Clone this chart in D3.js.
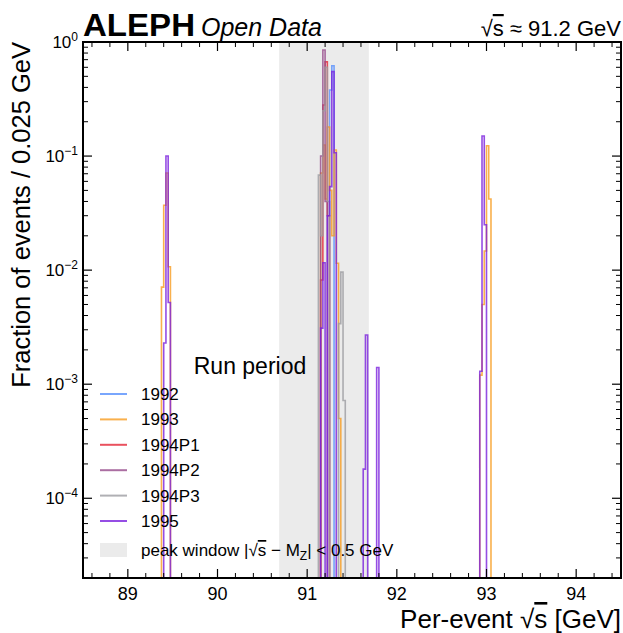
<!DOCTYPE html>
<html>
<head>
<meta charset="utf-8">
<script src="https://cdn.jsdelivr.net/npm/d3@7"></script>
<style>
  body { margin: 0; background: #fff; }
  text { font-family: "Liberation Sans", Arial, sans-serif; fill: #000; }
</style>
</head>
<body>
<svg width="623" height="633"></svg>
<script>
// bin width 0.025 GeV, each entry is [bin low edge, fraction]
const binWidth = 0.025,
      mZ = 91.1876;

const periods = ["1992", "1993", "1994P1", "1994P2", "1994P3", "1995"];
const colors  = ["#5790fc", "#f89c20", "#e42536", "#964a8b", "#9c9ca1", "#7a21dd"];

const h1992 = [[91.25, 0.38], [91.275, 0.62]];
const h1993 = [[89.375, 0.0071], [89.4, 0.037], [89.425, 0.071], [89.45, 0.0107],
               [91.15, 0.071], [91.175, 0.125], [91.2, 0.042], [91.225, 0.18],
               [91.25, 0.05], [91.275, 0.02], [91.3, 0.113], [91.325, 0.0115], [91.35, 0.0005],
               [92.925, 0.0012], [92.95, 0.005], [92.975, 0.0147], [93.0, 0.123], [93.025, 0.042]];
const h1994P1 = [[91.15, 0.0082], [91.175, 0.28], [91.2, 0.67], [91.225, 0.03]];
const h1994P2 = [[91.15, 0.1], [91.175, 0.85], [91.2, 0.04]];
const h1994P3 = [[91.125, 0.068], [91.15, 0.02], [91.175, 0.25], [91.2, 0.6], [91.225, 0.04],
                 [91.35, 0.0034], [91.375, 0.0096], [91.4, 0.00072]];
const h1995 = [[89.4, 0.0023], [89.425, 0.1], [89.45, 0.0052],
               [91.15, 0.0031], [91.175, 0.0116], [91.225, 0.03], [91.25, 0.054],
               [91.275, 0.55], [91.3, 0.107], [91.625, 0.00018], [91.65, 0.0027], [91.775, 0.0014],
               [92.925, 0.0013], [92.95, 0.15], [92.975, 0.025]];

const hists = [h1992, h1993, h1994P1, h1994P2, h1994P3, h1995];

const xTicks = [89, 90, 91, 92, 93, 94];
const yTicks = [1e-4, 1e-3, 1e-2, 1e-1, 1];
const yExp   = ["\u22124", "\u22123", "\u22122", "\u22121", "0"];

var svg = d3.select("svg"),
    pL = 83, pR = 621, pT = 42, pB = 578;

var x = d3.scaleLinear().domain([88.5, 94.5]).range([pL, pR]);
var y = d3.scaleLog().domain([2e-5, 1]).range([pB, pT]);

svg.append("clipPath").attr("id", "plot")
   .append("rect")
   .attr("x", pL).attr("y", pT)
   .attr("width", pR - pL).attr("height", pB - pT);

// peak window band
svg.append("rect")
   .attr("x", x(mZ - 0.5)).attr("y", pT)
   .attr("width", x(mZ + 0.5) - x(mZ - 0.5))
   .attr("height", pB - pT)
   .attr("fill", "#ebebeb");

function stepPath(bins) {
  var p = d3.path(), yb = pB + 20, prevEnd = null;
  bins.forEach(([lo, v]) => {
    var hi = lo + binWidth, yy = y(v);
    if (prevEnd === null || Math.abs(lo - prevEnd) > 1e-6) {
      if (prevEnd !== null) p.lineTo(x(prevEnd), yb);
      p.moveTo(x(lo), yb);
    }
    p.lineTo(x(lo), yy);
    p.lineTo(x(hi), yy);
    prevEnd = hi;
  });
  p.lineTo(x(prevEnd), yb);
  return p.toString();
}

svg.append("g")
   .attr("clip-path", "url(#plot)")
   .selectAll("path")
   .data(hists)
   .enter().append("path")
   .attr("d", d => stepPath(d))
   .attr("fill", "none")
   .attr("stroke", (d, i) => colors[i])
   .attr("stroke-width", 1.6)
   .attr("stroke-opacity", 0.8);

// ticks (inward, all four sides)
var ticks = svg.append("g").attr("stroke", "#000");
var minorX = d3.range(88.6, 94.45, 0.2).filter(v => Math.abs(v - Math.round(v)) > 0.01);
xTicks.forEach(v => {
  ticks.append("line").attr("x1", x(v)).attr("x2", x(v)).attr("y1", pB).attr("y2", pB - 9).attr("stroke-width", 1.2);
  ticks.append("line").attr("x1", x(v)).attr("x2", x(v)).attr("y1", pT).attr("y2", pT + 9).attr("stroke-width", 1.2);
});
minorX.forEach(v => {
  ticks.append("line").attr("x1", x(v)).attr("x2", x(v)).attr("y1", pB).attr("y2", pB - 5).attr("stroke-width", 1);
  ticks.append("line").attr("x1", x(v)).attr("x2", x(v)).attr("y1", pT).attr("y2", pT + 5).attr("stroke-width", 1);
});
var minorY = [];
[-5, -4, -3, -2, -1].forEach(e => d3.range(2, 10).forEach(m => {
  var v = m * Math.pow(10, e);
  if (v > 2e-5 && v < 1) minorY.push(v);
}));
yTicks.forEach(v => {
  ticks.append("line").attr("x1", pL).attr("x2", pL + 9).attr("y1", y(v)).attr("y2", y(v)).attr("stroke-width", 1.2);
  ticks.append("line").attr("x1", pR).attr("x2", pR - 9).attr("y1", y(v)).attr("y2", y(v)).attr("stroke-width", 1.2);
});
minorY.forEach(v => {
  ticks.append("line").attr("x1", pL).attr("x2", pL + 5).attr("y1", y(v)).attr("y2", y(v)).attr("stroke-width", 1);
  ticks.append("line").attr("x1", pR).attr("x2", pR - 5).attr("y1", y(v)).attr("y2", y(v)).attr("stroke-width", 1);
});

// frame
svg.append("rect")
   .attr("x", pL).attr("y", pT)
   .attr("width", pR - pL).attr("height", pB - pT)
   .attr("fill", "none").attr("stroke", "#000").attr("stroke-width", 2);

// tick labels
svg.append("g").selectAll("text")
   .data(xTicks)
   .enter().append("text")
   .attr("x", d => x(d)).attr("y", 600)
   .attr("text-anchor", "middle")
   .attr("font-size", 18)
   .text(d => d);

var yl = svg.append("g").selectAll("text")
   .data(yTicks)
   .enter().append("text")
   .attr("x", 78).attr("y", d => y(d) + 6)
   .attr("text-anchor", "end")
   .attr("font-size", 17);
yl.append("tspan").text("10");
yl.append("tspan").attr("dy", -7).attr("font-size", 12).text((d, i) => yExp[i]);

// axis labels
var xl = svg.append("text")
   .attr("x", pR).attr("y", 628)
   .attr("text-anchor", "end")
   .attr("font-size", 26);
xl.append("tspan").text("Per-event \u221A");
xl.append("tspan").attr("text-decoration", "overline").text("s");
xl.append("tspan").text(" [GeV]");

svg.append("text")
   .attr("transform", "translate(30," + pT + ") rotate(-90)")
   .attr("text-anchor", "end")
   .attr("font-size", 25.5)
   .text("Fraction of events / 0.025 GeV");

// header
svg.append("text")
   .attr("x", 83).attr("y", 36)
   .attr("font-size", 32).attr("font-weight", "bold")
   .attr("textLength", 112).attr("lengthAdjust", "spacingAndGlyphs")
   .text("ALEPH");
svg.append("text")
   .attr("x", 201).attr("y", 36)
   .attr("font-size", 25).attr("font-style", "italic")
   .text("Open Data");
var rt = svg.append("text")
   .attr("x", pR).attr("y", 36)
   .attr("text-anchor", "end")
   .attr("font-size", 22);
rt.append("tspan").text("\u221A");
rt.append("tspan").attr("text-decoration", "overline").text("s");
rt.append("tspan").text(" \u2248 91.2 GeV");

// legend
svg.append("text")
   .attr("x", 250).attr("y", 374)
   .attr("text-anchor", "middle")
   .attr("font-size", 23)
   .text("Run period");

var leg = svg.append("g").selectAll("g")
   .data(periods)
   .enter().append("g")
   .attr("transform", (d, i) => "translate(0," + (394 + i * 25.4) + ")");
leg.append("line")
   .attr("x1", 100).attr("x2", 127)
   .attr("stroke", (d, i) => colors[i])
   .attr("stroke-width", 2)
   .attr("stroke-opacity", 0.8);
leg.append("text")
   .attr("x", 141).attr("y", 6)
   .attr("font-size", 17)
   .text(d => d);

svg.append("rect")
   .attr("x", 100).attr("y", 543)
   .attr("width", 27).attr("height", 14)
   .attr("fill", "#ebebeb");
var pw = svg.append("text")
   .attr("x", 141).attr("y", 556)
   .attr("font-size", 17);
pw.append("tspan").text("peak window |\u221A");
pw.append("tspan").attr("text-decoration", "overline").text("s");
pw.append("tspan").text(" \u2212 M");
pw.append("tspan").attr("dy", 4).attr("font-size", 12).text("Z");
pw.append("tspan").attr("dy", -4).text("| < 0.5 GeV");
</script>
</body>
</html>
